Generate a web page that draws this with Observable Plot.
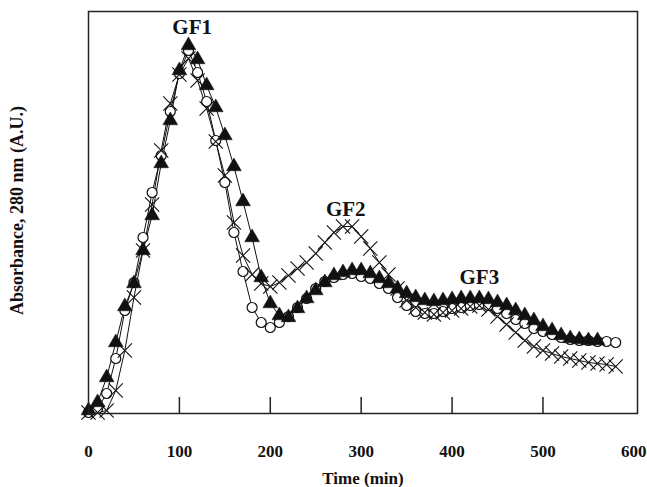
<!DOCTYPE html>
<html><head><meta charset="utf-8">
<script src="https://cdn.jsdelivr.net/npm/d3@7"></script>
<script src="https://cdn.jsdelivr.net/npm/@observablehq/plot@0.6"></script>
<style>
body{margin:0;background:#fff}
#chart svg{font-family:"Liberation Serif","Times New Roman",serif}
</style>
</head><body><div id="chart"></div>
<script>
// Elution time (min)
const times = [0,10,20,30,40,50,60,70,80,90,100,110,120,130,140,150,160,170,180,190,200,210,220,230,240,250,260,270,280,290,300,310,320,330,340,350,360,370,380,390,400,410,420,430,440,450,460,470,480,490,500,510,520,530,540,550,560,570,580];
// Absorbance (arbitrary units), open circles
const circleVals = [1,5,20,55,103,131,176,221,258,302,340,363,341,312,273,231,181,142,106,91,86,91,97,106,115,125,132,136,139,140,137,135,130,125,116,108,102,100,100,102,105,106,108,109,108,105,100,94,90,85,82,79,76,74,73,73,72,72,71];
// filled triangles (0–560 min)
const triangleVals = [3,11,36,71,107,130,163,198,250,293,343,368,354,328,306,278,247,212,176,136,110,98,96,105,115,123,131,138,141,143,143,140,135,130,125,120,116,113,112,113,114,115,115,115,114,111,108,103,98,93,87,83,78,75,74,73,73];
// crosses
const crossVals = [1,1,3,23,63,116,163,209,263,310,339,355,333,305,272,238,191,158,139,130,127,131,138,145,151,160,171,181,187,187,177,165,151,139,125,113,106,101,99,101,103,105,107,108,104,97,89,81,73,67,63,60,57,55,53,51,50,49,47];
const xTicks = [0,100,200,300,400,500,600];
const innerTicks = [100,200,300,400,500];
const peakNames = ["GF1","GF2","GF3"];
const peakTimes = [114,283,430];
const peakLevels = [380,198,130];

const mk = (vals, s) => vals.map((v,i) => ({t: times[i], v, s}));
const circles = mk(circleVals, "circle");
const triangles = mk(triangleVals, "triangle");
const crosses = mk(crossVals, "cross");
const all = [...circles, ...triangles, ...crosses];
const peaks = peakNames.map((n,i) => ({n, t: peakTimes[i], v: peakLevels[i]}));

const chart = Plot.plot({
  width: 647, height: 487,
  marginLeft: 88, marginRight: 10, marginTop: 11, marginBottom: 74,
  style: {fontFamily: '"Liberation Serif","Times New Roman",serif', background: "#fff"},
  x: {domain: [0, 604]},
  y: {domain: [0, 402], axis: null},
  marks: [
    Plot.line(all, {x: "t", y: "v", z: "s", stroke: "#111", strokeWidth: 1}),
    Plot.dot(circles, {x: "t", y: "v", r: 5, symbol: "circle", fill: "white", stroke: "#111", strokeWidth: 1.2}),
    Plot.dot(triangles, {x: "t", y: "v", r: 5.5, symbol: "triangle", fill: "#111", stroke: "#111", strokeWidth: 0.5}),
    Plot.dot(crosses, {x: "t", y: "v", r: 6.5, symbol: "times", stroke: "#111", strokeWidth: 1.1}),
    Plot.frame({stroke: "#222", strokeWidth: 1.5}),
    Plot.tickX(innerTicks, {x: d => d, insetTop: 386, stroke: "#222", strokeWidth: 1.5}),
    Plot.axisX(xTicks, {tickSize: 0, tickPadding: 31, fontSize: 17, fontWeight: "bold", label: null, fill: "#111"}),
    Plot.text(["Time (min)"], {frameAnchor: "bottom", dy: 70, lineAnchor: "bottom", fontSize: 17, fontWeight: "bold", fill: "#111"}),
    Plot.text(["Absorbance, 280 nm (A.U.)"], {frameAnchor: "left", textAnchor: "middle", dx: -71, dy: -2, rotate: -90, fontSize: 18, fontWeight: "bold", fill: "#111"}),
    Plot.text(peaks, {x: "t", y: "v", text: "n", lineAnchor: "bottom", fontSize: 21, fontWeight: "bold", fill: "#111"})
  ]
});
document.getElementById("chart").appendChild(chart);
</script>
</body></html>
